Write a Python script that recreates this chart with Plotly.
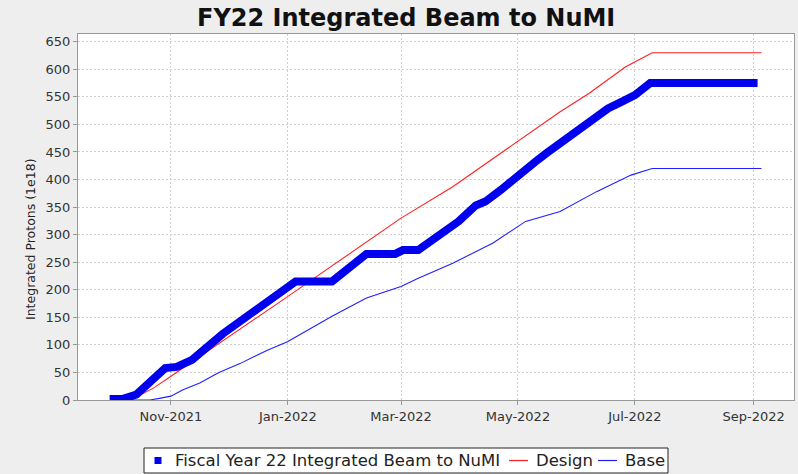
import plotly.graph_objects as go

# ---- data ----
fy_dates = ["2021-09-30", "2021-10-07", "2021-10-14", "2021-10-21", "2021-10-29",
            "2021-11-04", "2021-11-12", "2021-11-28", "2021-12-17", "2022-01-05",
            "2022-01-24", "2022-02-11", "2022-02-26", "2022-03-02", "2022-03-10",
            "2022-03-20", "2022-03-31", "2022-04-09", "2022-04-14", "2022-04-22",
            "2022-05-01", "2022-05-10", "2022-05-16", "2022-05-24", "2022-06-01",
            "2022-06-08", "2022-06-17", "2022-06-24", "2022-07-01", "2022-07-09",
            "2022-09-03"]
fy_values = [2, 2, 10, 33, 58,
             60, 73, 120, 168, 215,
             215, 265, 265, 272, 272,
             297, 324, 353, 360, 381,
             408, 432, 448, 469, 490,
             504, 529, 541, 553, 575,
             575]

design_dates = ["2021-10-01", "2021-10-11", "2021-10-23", "2021-11-01", "2022-01-01",
                "2022-03-01", "2022-03-28", "2022-04-18", "2022-05-01", "2022-05-23",
                "2022-06-07", "2022-06-26", "2022-07-10", "2022-09-05"]
design_values = [0, 0, 22, 43, 188,
                 330, 387, 438, 470, 523,
                 556, 604, 630, 630]

base_dates = ["2021-10-01", "2021-10-21", "2021-10-26", "2021-11-01", "2021-11-07",
              "2021-11-16", "2021-11-26", "2021-12-07", "2021-12-21", "2022-01-01",
              "2022-01-24", "2022-02-11", "2022-03-01", "2022-03-10", "2022-03-28",
              "2022-04-18", "2022-05-05", "2022-05-23", "2022-06-11", "2022-06-29",
              "2022-07-10", "2022-09-05"]
base_values = [0, 0, 3, 7, 18,
               31, 50, 66, 90, 106,
               152, 185, 206, 221, 248,
               285, 324, 342, 378, 408,
               420, 420]

y_ticks = list(range(0, 651, 50))

series_names = ["Fiscal Year 22 Integrated Beam to NuMI", "Design", "Base"]
series_colors = ["#0000ee", "#ff2020", "#2020ff"]

FONT = "DejaVu Sans"
W, H = 798, 474
ML, MR, MT, MB = 78, 4, 34, 74
PW, PH = W - ML - MR, H - MT - MB


def px(xp):  # pixel -> paper x
    return (xp - ML) / PW


def py(yp):  # pixel -> paper y
    return (H - MB - yp) / PH


fig = go.Figure()

fig.add_trace(go.Scatter(
    x=design_dates, y=design_values, mode="lines", name=series_names[1],
    line=dict(color=series_colors[1], width=1.1), showlegend=False))
fig.add_trace(go.Scatter(
    x=base_dates, y=base_values, mode="lines", name=series_names[2],
    line=dict(color=series_colors[2], width=1.1), showlegend=False))
fig.add_trace(go.Scatter(
    x=fy_dates, y=fy_values, mode="lines", name=series_names[0],
    line=dict(color=series_colors[0], width=8), showlegend=False))

# ---- legend box drawn below the plot (JFreeChart style) ----
LY = 460.5
shapes = [
    dict(type="rect", xref="paper", yref="paper",
         x0=px(144), x1=px(668), y0=py(473), y1=py(448),
         fillcolor="white", line=dict(color="#222222", width=1), layer="above"),
    dict(type="rect", xref="paper", yref="paper",
         x0=px(154.5), x1=px(161.5), y0=py(464), y1=py(457),
         fillcolor=series_colors[0], line=dict(width=0), layer="above"),
    dict(type="line", xref="paper", yref="paper",
         x0=px(509), x1=px(528), y0=py(LY), y1=py(LY),
         line=dict(color=series_colors[1], width=1.2), layer="above"),
    dict(type="line", xref="paper", yref="paper",
         x0=px(598), x1=px(617), y0=py(LY), y1=py(LY),
         line=dict(color=series_colors[2], width=1.2), layer="above"),
]
annotations = [
    dict(text=series_names[0], x=px(173), y=py(LY), xref="paper", yref="paper",
         xanchor="left", yanchor="middle", showarrow=False,
         font=dict(family=FONT, size=16.5, color="#222222")),
    dict(text=series_names[1], x=px(534), y=py(LY), xref="paper", yref="paper",
         xanchor="left", yanchor="middle", showarrow=False,
         font=dict(family=FONT, size=16.5, color="#222222")),
    dict(text=series_names[2], x=px(623), y=py(LY), xref="paper", yref="paper",
         xanchor="left", yanchor="middle", showarrow=False,
         font=dict(family=FONT, size=16.5, color="#222222")),
    # y-axis title
    dict(text="Integrated Protons (1e18)", x=px(30), y=py(239),
         xref="paper", yref="paper", xanchor="center", yanchor="middle",
         textangle=-90, showarrow=False,
         font=dict(family=FONT, size=12.5, color="#222222")),
]

fig.update_layout(
    width=W, height=H,
    margin=dict(l=ML, r=MR, t=MT, b=MB, autoexpand=False),
    paper_bgcolor="#eeeeee", plot_bgcolor="white",
    font=dict(family=FONT, color="#333333"),
    title=dict(text="<b>FY22 Integrated Beam to NuMI</b>",
               font=dict(family=FONT, size=24, color="#111111"),
               x=0.509, xref="container", xanchor="center",
               y=1 - 18 / 474, yref="container", yanchor="middle"),
    showlegend=False,
    shapes=shapes,
    annotations=annotations,
)

fig.update_xaxes(
    type="date", automargin=False,
    range=["2021-09-13 12:00", "2022-09-22"],
    tick0="2021-11-01", dtick="M2", tickformat="%b-%Y",
    ticks="outside", ticklen=4, tickcolor="#999999",
    tickfont=dict(family=FONT, size=13, color="#333333"),
    showgrid=True, gridcolor="#d0d0d0", griddash="2px,2px", gridwidth=1,
    showline=True, linecolor="#999999", linewidth=1, mirror=True,
    zeroline=False,
)
fig.update_yaxes(
    range=[0, 664], automargin=False,
    tickvals=y_ticks,
    ticks="outside", ticklen=4, tickcolor="#999999",
    tickfont=dict(family=FONT, size=13, color="#333333"),
    showgrid=True, gridcolor="#d0d0d0", griddash="2px,2px", gridwidth=1,
    showline=True, linecolor="#999999", linewidth=1, mirror=True,
    zeroline=False,
)

fig.write_html(
    "out.html",
    config={"displayModeBar": False},
    post_script="document.body.style.margin='0';document.body.style.background='#eeeeee';",
)
